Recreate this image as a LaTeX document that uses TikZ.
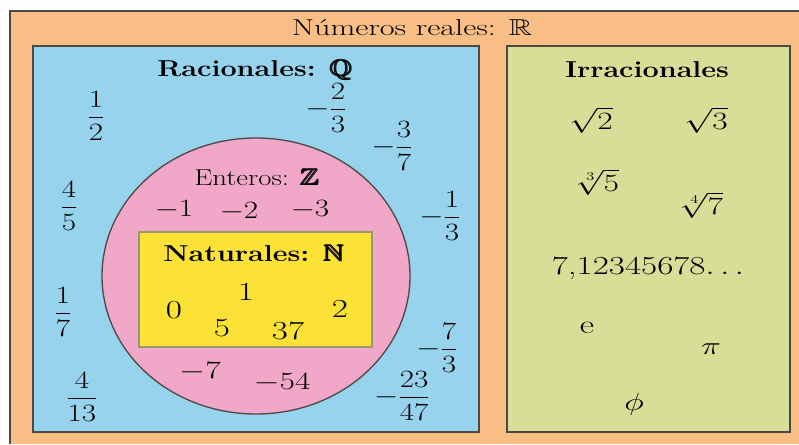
\documentclass[tikz,border=0pt]{standalone}
\usepackage{amsmath,amssymb}

\definecolor{realbg}{RGB}{248,190,134}
\definecolor{racbg}{RGB}{152,211,238}
\definecolor{entbg}{RGB}{240,167,200}
\definecolor{natbg}{RGB}{252,226,54}
\definecolor{irrbg}{RGB}{214,222,152}
\definecolor{edge}{RGB}{78,72,66}
\definecolor{natedge}{RGB}{150,152,112}

\tikzset{
  box/.style={draw=edge,line width=1.6pt},
  txt/.style={text=black,font=\fontsize{23}{27}\selectfont,xscale=1.25},
  head/.style={text=black,font=\fontsize{23}{27}\selectfont\bfseries,xscale=1.25},
  num/.style={text=black,font=\fontsize{26}{30}\selectfont,xscale=1.35},
}

\begin{document}
\begin{tikzpicture}[x=10pt,y=10pt]
\useasboundingbox (0,0) rectangle (79.9,-44.4);

% todos los reales
\fill[realbg] (1,-1.1) rectangle (79.9,-44.4);
\draw[edge,line width=1.6pt] (1,-44.4) |- (79.9,-1.1);
\node [txt,xscale=1.12] (reales) at (41.2,-2.8) {Números reales: $\mathbb{R}$};

\draw[box,fill=racbg]
      ( 3.3,-4.6) rectangle +(44.6,-38.6)
    ++(22.2,-2.4) node [head] (racionales) {Racionales: $\pmb{\mathbb{Q}}$};

\draw[box,fill=irrbg]
      (50.7,-4.6) rectangle +(28.3,-38.6)
    ++(14.0,-2.4) node [head] (irracionales) {Irracionales};

\draw[edge,line width=1.3pt,fill=entbg]
      (25.6,-27.6) ellipse [x radius=15.4,y radius=13.8];
\node [txt] (enteros) at (25.7,-17.7) {Enteros: $\pmb{\mathbb{Z}}$};

\draw[natedge,line width=1.6pt,fill=natbg]
      (13.9,-23.2) rectangle +(23.3,-11.5)
    ++(11.5,-2.1) node [head] (naturales) {Naturales: $\pmb{\mathbb{N}}$};

% naturales
\node [num] (nat0) at (17.4,-31.0) {0};
\node [num] (nat1) at (24.6,-29.2) {1};
\node [num] (nat2) at (34.0,-30.9) {2};
\node [num] (nat3) at (22.2,-32.8) {5};
\node [num] (nat4) at (28.8,-33.1) {37};

% enteros
\node [txt] (int0) at (17.4,-21.0) {$-1$};
\node [txt] (int1) at (23.9,-21.2) {$-2$};
\node [txt] (int2) at (31.0,-21.0) {$-3$};
\node [num] (int3) at (20.0,-37.2) {$-7$};
\node [num] (int4) at (28.2,-38.3) {$-54$};

% racionales
\node [txt] (frac0) at ( 9.6,-11.6) {$\dfrac{1}{2}$};
\node [txt] (frac1) at (32.6,-10.8) {$-\dfrac{2}{3}$};
\node [txt] (frac2) at (39.2,-14.6) {$-\dfrac{3}{7}$};
\node [txt] (frac3) at ( 6.9,-20.6) {$\dfrac{4}{5}$};
\node [txt] (frac4) at (44.0,-21.6) {$-\dfrac{1}{3}$};
\node [txt] (frac5) at ( 6.3,-31.2) {$\dfrac{1}{7}$};
\node [txt] (frac6) at (43.7,-34.8) {$-\dfrac{7}{3}$};
\node [txt] (frac7) at ( 8.2,-39.7) {$\dfrac{4}{13}$};
\node [txt] (frac8) at (40.2,-39.6) {$-\dfrac{23}{47}$};

% irracionales
\node [num] (irr0) at (59.1,-12.0) {$\sqrt{2}$};
\node [num] (irr1) at (70.6,-12.0) {$\sqrt{3}$};
\node [num] (irr2) at (59.8,-18.2) {$\sqrt[3]{5}$};
\node [num] (irr3) at (70.2,-20.5) {$\sqrt[4]{7}$};
\node [num] (irr4) at (64.8,-26.8) {7,12345678$\ldots$};
\node [num] (irr5) at (58.7,-32.8) {e};
\node [num] (irr6) at (71.1,-34.9) {$\pi$};
\node [num] (irr7) at (63.4,-40.4) {$\phi$};
\end{tikzpicture}
\end{document}
